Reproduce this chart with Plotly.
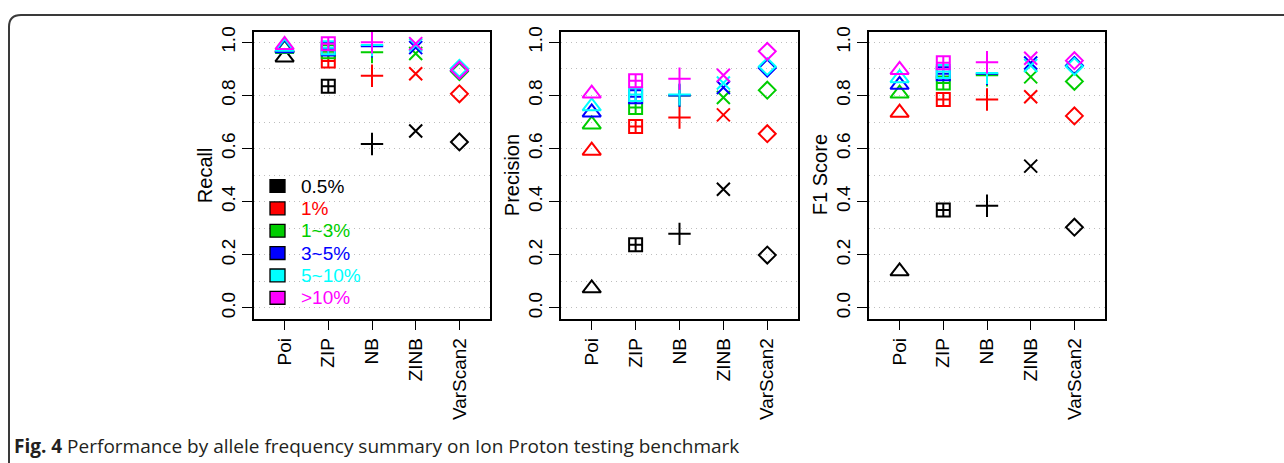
import plotly.graph_objects as go

W, H = 1284, 463

methods = ["Poi", "ZIP", "NB", "ZINB", "VarScan2"]
groups = ["0.5%", "1%", "1~3%", "3~5%", "5~10%", ">10%"]
colors = ["#000000", "#FF0000", "#00CD00", "#0000FF", "#00FFFF", "#FF00FF"]
symbols = ["triangle-up-open", "square-cross-open", "cross-thin-open", "x-thin-open", "diamond-open"]
msizes = [16, 13, 16, 13, 13]

# rows: groups (0.5%, 1%, 1~3%, 3~5%, 5~10%, >10%); columns: methods
recall = [
    [0.943, 0.835, 0.617, 0.666, 0.625],
    [0.980, 0.930, 0.874, 0.882, 0.806],
    [0.975, 0.965, 0.963, 0.958, 0.890],
    [0.978, 0.975, 0.985, 0.980, 0.895],
    [0.983, 0.980, 0.990, 0.990, 0.902],
    [0.990, 0.995, 1.000, 0.995, 0.895],
]
precision = [
    [0.074, 0.238, 0.279, 0.447, 0.199],
    [0.592, 0.683, 0.717, 0.727, 0.656],
    [0.691, 0.755, 0.800, 0.792, 0.820],
    [0.736, 0.795, 0.800, 0.830, 0.903],
    [0.759, 0.804, 0.804, 0.847, 0.909],
    [0.807, 0.855, 0.863, 0.876, 0.966],
]
f1 = [
    [0.138, 0.369, 0.385, 0.534, 0.304],
    [0.735, 0.785, 0.785, 0.795, 0.723],
    [0.807, 0.847, 0.876, 0.870, 0.853],
    [0.840, 0.882, 0.882, 0.922, 0.913],
    [0.865, 0.890, 0.885, 0.913, 0.909],
    [0.896, 0.923, 0.925, 0.940, 0.931],
]
metric_names = ["Recall", "Precision", "F1 Score"]
y_ticks = [0.0, 0.2, 0.4, 0.6, 0.8, 1.0]
y_ticktext = ["0.0", "0.2", "0.4", "0.6", "0.8", "1.0"]
grid_vals = [0.1, 0.3, 0.5, 0.7, 0.9]

# layout in pixels
panels_px = [(254, 490), (561, 798), (869, 1105)]
top_px, bot_px = 27, 317
title_x_px = [205, 512, 820]


def fx(x):
    return x / W


def fy(y):
    return 1 - y / H


fig = go.Figure()
xpos = list(range(1, len(methods) + 1))
FONT = "Liberation Sans, Arial, sans-serif"
GRID = "#BEBEBE"
GDASH = "1px,4px"

for p, data in enumerate([recall, precision, f1]):
    xa = "x" if p == 0 else f"x{p+1}"
    ya = "y" if p == 0 else f"y{p+1}"
    for g, vals in enumerate(data):
        fig.add_trace(go.Scatter(
            x=xpos, y=vals, mode="markers", xaxis=xa, yaxis=ya,
            showlegend=False, hoverinfo="skip", opacity=1,
            marker=dict(symbol=symbols, size=msizes, color=colors[g], opacity=1,
                        line=dict(color=colors[g], width=2)),
        ))
    l, r = panels_px[p]
    axkey = "xaxis" if p == 0 else f"xaxis{p+1}"
    aykey = "yaxis" if p == 0 else f"yaxis{p+1}"
    fig.layout[axkey] = dict(
        domain=[fx(l), fx(r)], anchor=ya, range=[0.3, 5.7],
        tickvals=xpos, ticktext=methods, tickangle=-90,
        ticks="outside", ticklen=10, tickwidth=1.4, tickcolor="black",
        showline=True, mirror=True, linecolor="black", linewidth=1.8,
        showgrid=False, zeroline=False,
        tickfont=dict(family=FONT, size=19, color="black"),
    )
    fig.layout[aykey] = dict(
        domain=[fy(bot_px), fy(top_px)], anchor=xa, range=[-0.04, 1.04],
        tickvals=y_ticks, ticktext=y_ticktext, tickangle=-90,
        ticks="outside", ticklen=10, tickwidth=1.4, tickcolor="black",
        showline=True, mirror=True, linecolor="black", linewidth=1.8,
        showgrid=True, gridcolor=GRID, griddash=GDASH, gridwidth=1.2,
        minor=dict(tickvals=grid_vals, showgrid=True,
                   gridcolor=GRID, griddash=GDASH, gridwidth=1.2, ticks=""),
        zeroline=False,
        tickfont=dict(family=FONT, size=19, color="black"),
    )
    fig.add_annotation(
        x=fx(title_x_px[p]), y=fy((top_px + bot_px) / 2), xref="paper", yref="paper",
        text=metric_names[p], textangle=-90, showarrow=False,
        font=dict(family=FONT, size=20, color="black"),
        xanchor="center", yanchor="middle",
    )

# legend in the Recall panel
leg_y0, leg_dy = 183, 22.6
for g, name in enumerate(groups):
    yc = leg_y0 + g * leg_dy
    fig.add_shape(type="rect", xref="paper", yref="paper",
                  x0=fx(270), x1=fx(285), y0=fy(yc + 6.5), y1=fy(yc - 6.5),
                  fillcolor=colors[g], line=dict(color="black", width=1.3))
    fig.add_annotation(x=fx(299), y=fy(yc), xref="paper", yref="paper",
                       text=name, showarrow=False, xanchor="left", yanchor="middle",
                       font=dict(family=FONT, size=19, color=colors[g]))

# outer figure frame with rounded corner
x0, y0, rad = 9, 10, 12
path = (f"M {fx(x0)},{fy(H + 5)} L {fx(x0)},{fy(y0 + rad)} "
        f"Q {fx(x0)},{fy(y0)} {fx(x0 + rad)},{fy(y0)} L {fx(W + 5)},{fy(y0)}")
fig.add_shape(type="path", xref="paper", yref="paper", path=path,
              line=dict(color="#3a3a3a", width=2))

# caption
fig.add_annotation(x=fx(12), y=fy(446), xref="paper", yref="paper",
                   text="<b>Fig. 4</b> Performance by allele frequency summary on Ion Proton testing benchmark",
                   showarrow=False, xanchor="left", yanchor="middle",
                   font=dict(family="Open Sans, sans-serif", size=19, color="#231f20"))

fig.update_layout(
    width=W, height=H, margin=dict(l=0, r=0, t=0, b=0),
    paper_bgcolor="white", plot_bgcolor="white", showlegend=False,
)

fig.write_html("out.html")
